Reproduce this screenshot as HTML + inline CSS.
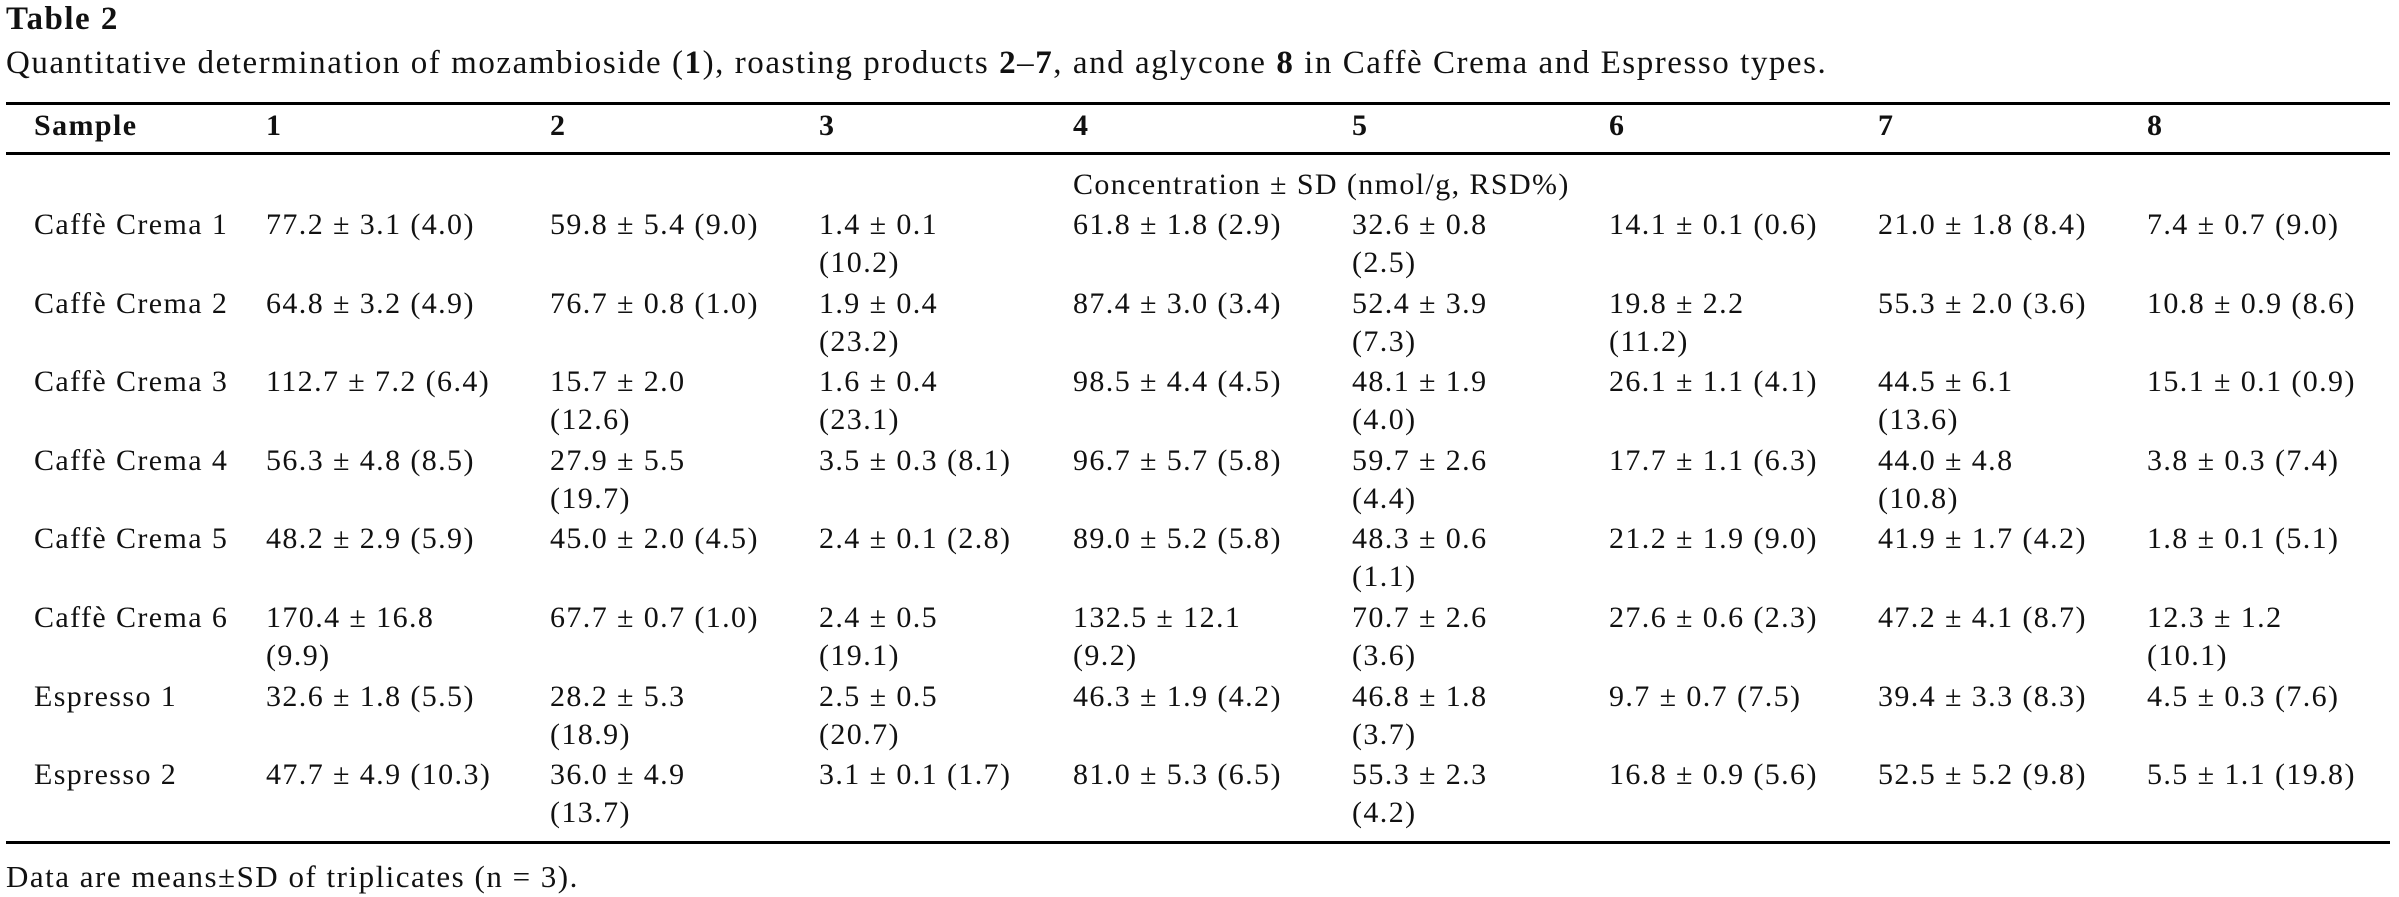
<!DOCTYPE html>
<html><head><meta charset="utf-8"><style>
body{margin:0;width:2399px;height:897px;background:#fff;position:relative;overflow:hidden;font-family:"Liberation Serif",serif;color:#111;}
.t{position:absolute;font-size:30px;line-height:38px;white-space:nowrap;letter-spacing:1.4px;}
.b{font-weight:bold;}
.rule{position:absolute;left:6px;width:2384px;height:3px;background:#000;}
</style></head><body>
<div class="t b" style="left:6px;top:0px;font-size:33px;letter-spacing:1.5px">Table 2</div>
<div class="t" style="left:6px;top:44px;font-size:33px;letter-spacing:1.55px">Quantitative determination of mozambioside (<b>1</b>), roasting products <b>2</b>–<b>7</b>, and aglycone <b>8</b> in Caffè Crema and Espresso types.</div>
<div class="rule" style="top:102px"></div>
<div class="rule" style="top:152px"></div>
<div class="rule" style="top:841px"></div>
<div id="hdr"></div>
<div class="t" style="left:1073px;top:166px">Concentration ± SD (nmol/g, RSD%)</div>
<div id="body"></div>
<div class="t" style="left:6px;top:858px;font-size:31px;letter-spacing:1.5px">Data are means±SD of triplicates (n = 3).</div>
<script>
const colX=[34,266,550,819,1073,1352,1609,1878,2147];
const headers=["Sample","1","2","3","4","5","6","7","8"];
const rows=[
["Caffè Crema 1","77.2 ± 3.1 (4.0)","59.8 ± 5.4 (9.0)","1.4 ± 0.1|(10.2)","61.8 ± 1.8 (2.9)","32.6 ± 0.8|(2.5)","14.1 ± 0.1 (0.6)","21.0 ± 1.8 (8.4)","7.4 ± 0.7 (9.0)"],
["Caffè Crema 2","64.8 ± 3.2 (4.9)","76.7 ± 0.8 (1.0)","1.9 ± 0.4|(23.2)","87.4 ± 3.0 (3.4)","52.4 ± 3.9|(7.3)","19.8 ± 2.2|(11.2)","55.3 ± 2.0 (3.6)","10.8 ± 0.9 (8.6)"],
["Caffè Crema 3","112.7 ± 7.2 (6.4)","15.7 ± 2.0|(12.6)","1.6 ± 0.4|(23.1)","98.5 ± 4.4 (4.5)","48.1 ± 1.9|(4.0)","26.1 ± 1.1 (4.1)","44.5 ± 6.1|(13.6)","15.1 ± 0.1 (0.9)"],
["Caffè Crema 4","56.3 ± 4.8 (8.5)","27.9 ± 5.5|(19.7)","3.5 ± 0.3 (8.1)","96.7 ± 5.7 (5.8)","59.7 ± 2.6|(4.4)","17.7 ± 1.1 (6.3)","44.0 ± 4.8|(10.8)","3.8 ± 0.3 (7.4)"],
["Caffè Crema 5","48.2 ± 2.9 (5.9)","45.0 ± 2.0 (4.5)","2.4 ± 0.1 (2.8)","89.0 ± 5.2 (5.8)","48.3 ± 0.6|(1.1)","21.2 ± 1.9 (9.0)","41.9 ± 1.7 (4.2)","1.8 ± 0.1 (5.1)"],
["Caffè Crema 6","170.4 ± 16.8|(9.9)","67.7 ± 0.7 (1.0)","2.4 ± 0.5|(19.1)","132.5 ± 12.1|(9.2)","70.7 ± 2.6|(3.6)","27.6 ± 0.6 (2.3)","47.2 ± 4.1 (8.7)","12.3 ± 1.2|(10.1)"],
["Espresso 1","32.6 ± 1.8 (5.5)","28.2 ± 5.3|(18.9)","2.5 ± 0.5|(20.7)","46.3 ± 1.9 (4.2)","46.8 ± 1.8|(3.7)","9.7 ± 0.7 (7.5)","39.4 ± 3.3 (8.3)","4.5 ± 0.3 (7.6)"],
["Espresso 2","47.7 ± 4.9 (10.3)","36.0 ± 4.9|(13.7)","3.1 ± 0.1 (1.7)","81.0 ± 5.3 (6.5)","55.3 ± 2.3|(4.2)","16.8 ± 0.9 (5.6)","52.5 ± 5.2 (9.8)","5.5 ± 1.1 (19.8)"]
];
const hdr=document.getElementById('hdr');
headers.forEach((h,i)=>{
  const d=document.createElement('div');
  d.className='t b';
  
  
  d.style.left=colX[i]+'px';d.style.top='107px';
  d.textContent=h;hdr.appendChild(d);
});
const body=document.getElementById('body');
rows.forEach((r,ri)=>{
  const y=206+ri*78.6;
  r.forEach((c,ci)=>{
    const d=document.createElement('div');
    d.className='t';
    
    
    d.style.left=colX[ci]+'px';d.style.top=y+'px';
    d.innerHTML=c.split('|').join('<br>');
    body.appendChild(d);
  });
});
</script>
</body></html>
